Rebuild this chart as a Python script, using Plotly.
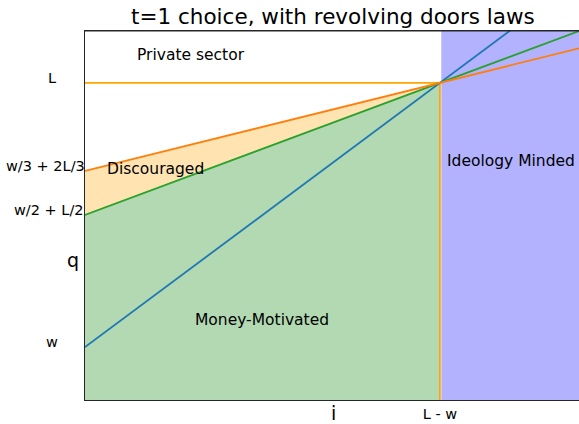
import plotly.graph_objects as go

# parameters
L = 6.0
w = 1.0
x_max = 6.96
y_max = 7.0

ytick_labels = ["L", "w/3 + 2L/3", "w/2 + L/2", "w"]
ytick_values = [L, w/3 + 2*L/3, w/2 + L/2, w]
xtick_labels = ["L - w"]
xtick_values = [L - w]

region_labels = ["Private sector", "Discouraged", "Ideology Minded", "Money-Motivated"]
region_x = [1.5, 1.0, 6.0, 2.5]
region_y = [6.52, 4.37, 4.52, 1.51]

i0 = L - w
xs = [0.0, i0, x_max]
blue = [w + x for x in xs]
green = [w/2 + L/2 + x/2 for x in xs]
orange = [w/3 + 2*L/3 + x/3 for x in xs]

FONT = "DejaVu Sans"
LW = 1.8
FRAME = "#262626"
fig = go.Figure()

# fills
fig.add_trace(go.Scatter(x=[0, i0, i0, 0], y=[0, 0, green[1], green[0]], fill="toself",
                         fillcolor="rgba(0,128,0,0.3)", line=dict(width=0), mode="lines",
                         hoverinfo="skip"))
fig.add_trace(go.Scatter(x=[0, i0, 0], y=[green[0], green[1], orange[0]], fill="toself",
                         fillcolor="rgba(255,165,0,0.3)", line=dict(width=0), mode="lines",
                         hoverinfo="skip"))
fig.add_trace(go.Scatter(x=[i0 + 0.02, x_max, x_max, i0 + 0.02], y=[0, 0, y_max, y_max], fill="toself",
                         fillcolor="rgba(0,0,255,0.3)", line=dict(width=0), mode="lines",
                         hoverinfo="skip"))
# boundary lines
fig.add_trace(go.Scatter(x=[0, i0], y=[L, L], mode="lines", line=dict(color="orange", width=LW)))
fig.add_trace(go.Scatter(x=[i0, i0], y=[0, L], mode="lines", line=dict(color="orange", width=LW)))
fig.add_trace(go.Scatter(x=xs, y=blue, mode="lines", line=dict(color="#1f77b4", width=LW)))
fig.add_trace(go.Scatter(x=xs, y=green, mode="lines", line=dict(color="#2ca02c", width=LW)))
fig.add_trace(go.Scatter(x=xs, y=orange, mode="lines", line=dict(color="#ff7f0e", width=LW)))
# top frame
fig.add_trace(go.Scatter(x=[0, x_max], y=[y_max * 0.998, y_max * 0.998], mode="lines",
                         line=dict(color=FRAME, width=1.5), hoverinfo="skip"))

for t, x, y in zip(region_labels, region_x, region_y):
    fig.add_annotation(x=x, y=y, text=t, showarrow=False, font=dict(family=FONT, size=15.5, color="black"))

# y tick labels
ylab_x = [-0.067, 0.004, 0.002, -0.067]
ylab_anchor = ["center", "right", "right", "center"]
for t, v, px, anc in zip(ytick_labels, ytick_values, ylab_x, ylab_anchor):
    fig.add_annotation(x=px, xref="paper", y=v + 0.1, text=t, showarrow=False, xanchor=anc,
                       font=dict(family=FONT, size=14.5, color="black"))

fig.update_layout(
    width=579, height=424,
    margin=dict(l=85, r=0, t=30, b=24),
    paper_bgcolor="white", plot_bgcolor="white",
    showlegend=False,
    title=dict(text="t=1 choice, with revolving doors laws", x=0.575, xanchor="center", y=0.96,
               yanchor="middle", font=dict(family=FONT, size=21.5, color="black")),
    font=dict(family=FONT, color="black"),
)
fig.update_xaxes(range=[0, x_max], showgrid=False, zeroline=False, showline=True, linecolor=FRAME,
                 linewidth=1.3, tickvals=xtick_values, ticktext=xtick_labels, ticks="",
                 tickfont=dict(family=FONT, size=14.5))
fig.update_yaxes(range=[0, y_max], showgrid=False, zeroline=False, showline=True, linecolor=FRAME,
                 linewidth=1.3, tickvals=[], ticks="")
fig.add_annotation(x=-0.025, xref="paper", xanchor="center", y=2.64, text="q", showarrow=False,
                   font=dict(family=FONT, size=19, color="black"))
fig.add_annotation(x=(333 - 85) / 494, xref="paper", xanchor="center", y=-0.035, yref="paper", text="i",
                   showarrow=False, yanchor="middle", font=dict(family=FONT, size=19, color="black"))

fig.write_html("out.html", post_script="document.body.style.margin='0';",
               config={"displayModeBar": False})
